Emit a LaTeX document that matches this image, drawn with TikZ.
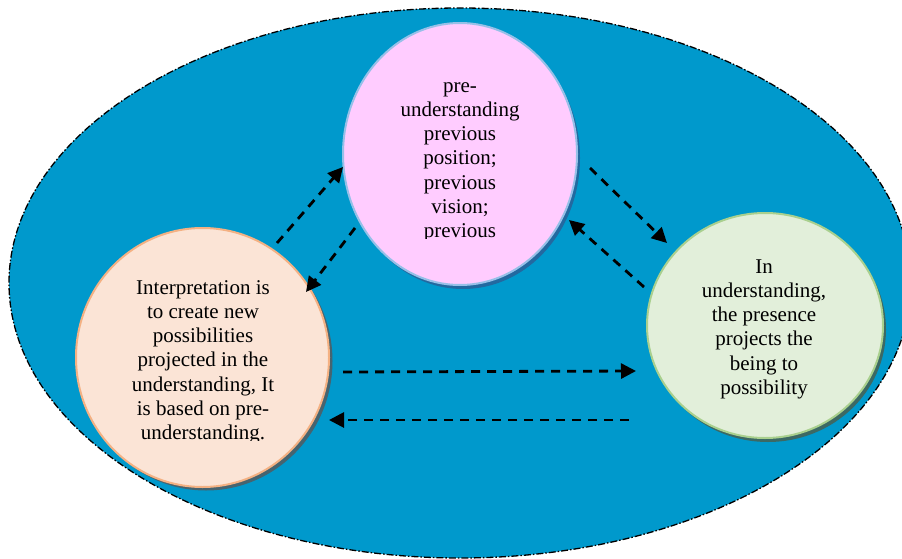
\documentclass[tikz,border=0pt]{standalone}
\usepackage{fontspec}
\setmainfont{Liberation Serif}
\usetikzlibrary{arrows.meta,shapes.geometric}
\definecolor{bgblue}{RGB}{0,153,204}
\definecolor{pinkfill}{RGB}{255,204,255}
\definecolor{pinkline}{RGB}{150,192,232}
\definecolor{pinkshadow}{RGB}{35,105,160}
\definecolor{peachfill}{RGB}{251,228,214}
\definecolor{peachline}{RGB}{244,177,131}
\definecolor{peachshadow}{RGB}{70,100,112}
\definecolor{greenfill}{RGB}{226,239,218}
\definecolor{greenline}{RGB}{169,208,142}
\definecolor{greenshadow}{RGB}{60,105,100}
\begin{document}
\begin{tikzpicture}[x=1pt,y=-1pt,
  world/.style={ellipse, draw=black, fill=bgblue, line width=1.3pt,
    dash pattern=on 7pt off 2pt on 1.5pt off 2pt, inner sep=0pt},
  bubble/.style={ellipse, line width=2pt, inner sep=0pt},
  bshadow/.style={ellipse, inner sep=0pt},
  txt/.style={align=center, inner sep=0pt, anchor=north,
    font=\fontsize{21}{24.2}\selectfont},
  conn/.style={line width=2.8pt, dash pattern=on 9pt off 7pt,
    -{Triangle[length=15pt,width=15pt]}}]
\fill[white] (0,0) rectangle (902,559);
\clip (0,0) rectangle (902,559);
\node[world, minimum width=902pt, minimum height=550pt] (world) at (460,283) {};
% shadows
\node[bshadow, fill=pinkshadow, minimum width=234pt, minimum height=262pt] (preshadow) at (463,158) {};
\node[bshadow, fill=peachshadow, minimum width=253pt, minimum height=259pt] (interpshadow) at (206,361) {};
\node[bshadow, fill=greenshadow, minimum width=236pt, minimum height=225pt] (undshadow) at (768,329.5) {};
% bubbles
\node[bubble, draw=pinkline, fill=pinkfill, minimum width=234pt, minimum height=262pt] (pre) at (460,154) {};
\node[bubble, draw=peachline, fill=peachfill, minimum width=253pt, minimum height=259pt] (interp) at (202.5,357.5) {};
\node[bubble, draw=greenline, fill=greenfill, minimum width=236pt, minimum height=225pt] (und) at (765,325.5) {};
% texts
\begin{scope}
\clip (340,50) rectangle (580,238.5);
\node[txt] (pretext) at (460,77) {\rule{0pt}{15pt}pre-\\understanding\\previous\\position;\\previous\\vision;\\previous};
\end{scope}
\begin{scope}
\clip (80,260) rectangle (330,440.5);
\node[txt] (interptext) at (203,279) {\rule{0pt}{15pt}Interpretation is\\to create new\\possibilities\\projected in the\\understanding, It\\is based on pre-\\understanding.};
\end{scope}
\node[txt] (undtext) at (764,258) {\rule{0pt}{15pt}In\\understanding,\\the presence\\projects the\\being to\\possibility};
% connector end points
\coordinate (a1s) at (277,243);
\coordinate (a1e) at (343,167);
\coordinate (a2s) at (355,228);
\coordinate (a2e) at (306,292);
\coordinate (a3s) at (590,168);
\coordinate (a3e) at (667,243);
\coordinate (a4s) at (644,287);
\coordinate (a4e) at (569,220);
\coordinate (a5s) at (343,372);
\coordinate (a5e) at (636,371);
\coordinate (a6s) at (629,420);
\coordinate (a6e) at (329,420);
\draw[conn] (a1s) -- (a1e);
\draw[conn] (a2s) -- (a2e);
\draw[conn] (a3s) -- (a3e);
\draw[conn] (a4s) -- (a4e);
\draw[conn] (a5s) -- (a5e);
\draw[conn] (a6s) -- (a6e);
\end{tikzpicture}
\end{document}
